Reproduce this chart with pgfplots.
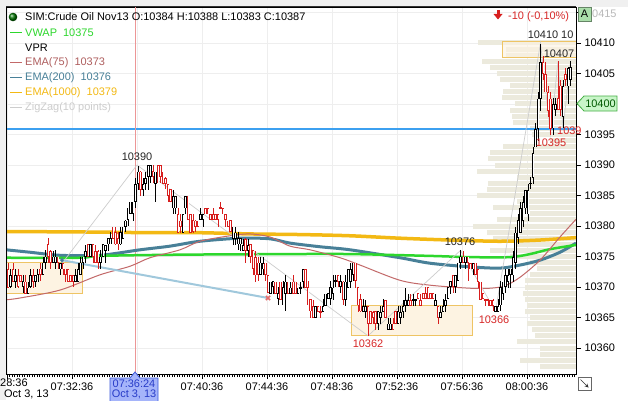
\documentclass[border=0pt]{standalone}
\usepackage{pgfplots}
\pgfplotsset{compat=1.18}
\usepackage{pgfplotstable}
\usepackage{fontspec}
\setmainfont{Liberation Sans}

\definecolor{bggray}{RGB}{240,240,240}
\definecolor{gridc}{RGB}{238,238,238}
\definecolor{vprc}{RGB}{236,234,221}
\definecolor{boxfill}{RGB}{253,243,226}
\definecolor{boxedge}{RGB}{238,196,100}
\definecolor{hblue}{RGB}{60,160,240}
\definecolor{crossred}{RGB}{236,150,150}
\definecolor{vwapc}{RGB}{45,215,45}
\definecolor{ema75}{RGB}{195,105,105}
\definecolor{ema200}{RGB}{72,128,152}
\definecolor{ema1000}{RGB}{243,185,20}
\definecolor{zigc}{RGB}{205,205,205}
\definecolor{lblue}{RGB}{160,200,220}
\definecolor{xred}{RGB}{230,110,110}
\definecolor{candred}{RGB}{215,30,30}
\definecolor{txtred}{RGB}{215,40,40}
\definecolor{agreen}{RGB}{170,222,170}
\definecolor{tagfill}{RGB}{200,245,200}
\definecolor{tagedge}{RGB}{70,175,70}
\definecolor{xlab}{RGB}{165,180,250}
\definecolor{xlabedge}{RGB}{60,90,220}
\definecolor{xlabtxt}{RGB}{40,60,200}

\newcommand{\lbl}{\fontsize{11}{13}\selectfont}

% bar i o h l c s   (s = 1 up/black, -1 down/red)
\pgfplotstableread{
i o h l c s
0 10373 10374 10370 10370 -1
1 10370 10373 10370 10372 1
2 10373 10374 10371 10371 -1
3 10371 10373 10370 10372 1
4 10372 10373 10370 10370 -1
5 10372 10372 10371 10371 -1
6 10370 10372 10369 10371 1
7 10371 10372 10369 10369 -1
8 10369 10371 10369 10370 1
9 10370 10373 10370 10372 1
10 10372 10373 10370 10371 -1
11 10371 10372 10370 10372 1
12 10372 10373 10371 10373 1
13 10373 10374 10371 10372 -1
14 10372 10375 10372 10374 1
15 10374 10376 10373 10375 1
16 10377 10378 10374 10375 -1
17 10376 10376 10373 10374 -1
18 10374 10376 10374 10375 1
19 10374 10376 10373 10375 1
20 10375 10375 10373 10374 -1
21 10373 10374 10372 10374 1
22 10374 10374 10372 10373 -1
23 10373 10373 10371 10372 -1
24 10373 10373 10371 10371 -1
25 10372 10372 10371 10371 -1
26 10372 10372 10370 10371 -1
27 10371 10373 10371 10372 1
28 10371 10374 10371 10373 1
29 10372 10375 10372 10374 1
30 10374 10375 10373 10375 1
31 10375 10377 10374 10376 1
32 10377 10377 10375 10375 -1
33 10375 10377 10375 10377 1
34 10377 10377 10374 10375 -1
35 10376 10377 10374 10374 -1
36 10376 10376 10373 10374 -1
37 10374 10376 10373 10375 1
38 10375 10377 10375 10377 1
39 10376 10377 10374 10377 1
40 10377 10378 10376 10378 1
41 10377 10379 10377 10378 1
42 10380 10380 10378 10378 -1
43 10379 10380 10377 10377 -1
44 10378 10379 10376 10377 -1
45 10377 10380 10377 10379 1
46 10378 10380 10378 10380 1
47 10380 10381 10379 10381 1
48 10381 10383 10380 10383 1
49 10382 10384 10382 10384 1
50 10382 10384 10381 10384 1
51 10384 10388 10383 10387 1
52 10387 10390 10386 10389 1
53 10389 10389 10385 10386 -1
54 10386 10388 10385 10387 1
55 10387 10389 10386 10388 1
56 10388 10390 10386 10390 1
57 10388 10390 10387 10390 1
58 10389 10390 10387 10388 -1
59 10387 10389 10384 10389 1
60 10390 10390 10387 10387 -1
61 10390 10390 10387 10388 -1
62 10389 10389 10387 10387 -1
63 10388 10388 10386 10387 -1
64 10387 10387 10384 10385 -1
65 10386 10386 10384 10384 -1
66 10383 10386 10382 10385 1
67 10383 10385 10382 10385 1
68 10382 10383 10379 10379 -1
69 10381 10382 10379 10380 -1
70 10379 10382 10379 10382 1
71 10383 10385 10382 10385 1
72 10385 10385 10381 10381 -1
73 10382 10382 10379 10379 -1
74 10381 10382 10379 10379 -1
75 10381 10381 10379 10380 -1
76 10381 10381 10380 10380 -1
77 10381 10383 10381 10382 1
78 10381 10382 10380 10382 1
79 10383 10383 10382 10382 -1
80 10383 10383 10382 10382 -1
81 10382 10382 10381 10381 -1
82 10382 10383 10381 10381 -1
83 10382 10382 10381 10381 -1
84 10382 10382 10380 10381 -1
85 10383 10384 10383 10383 -1
86 10383 10383 10382 10382 -1
87 10382 10382 10380 10381 -1
88 10381 10381 10380 10380 -1
89 10381 10381 10379 10379 -1
90 10378 10380 10377 10380 1
91 10378 10380 10377 10379 1
92 10377 10379 10376 10378 1
93 10377 10378 10376 10378 1
94 10376 10378 10376 10377 1
95 10378 10378 10374 10376 -1
96 10376 10378 10375 10377 1
97 10377 10377 10374 10375 -1
98 10376 10376 10372 10373 -1
99 10375 10376 10371 10372 -1
100 10374 10375 10371 10372 -1
101 10372 10375 10372 10374 1
102 10373 10375 10372 10374 1
103 10374 10374 10371 10372 -1
104 10372 10372 10369 10369 -1
105 10369 10371 10369 10371 1
106 10370 10371 10369 10371 1
107 10371 10371 10369 10369 -1
108 10368 10370 10367 10369 1
109 10371 10371 10368 10368 -1
110 10367 10371 10367 10370 1
111 10369 10372 10366 10371 1
112 10371 10371 10369 10369 -1
113 10369 10371 10369 10370 1
114 10371 10372 10369 10369 -1
115 10371 10371 10369 10369 -1
116 10369 10370 10369 10370 1
117 10370 10371 10369 10370 1
118 10371 10373 10370 10373 1
119 10373 10373 10370 10370 -1
120 10370 10371 10367 10367 -1
121 10368 10368 10365 10366 -1
122 10367 10368 10365 10365 -1
123 10365 10367 10365 10367 1
124 10367 10367 10366 10366 -1
125 10366 10367 10365 10366 -1
126 10366 10368 10366 10367 1
127 10367 10369 10367 10369 1
128 10368 10369 10368 10369 1
129 10368 10371 10367 10370 1
130 10369 10372 10368 10370 1
131 10371 10372 10370 10371 1
132 10372 10372 10370 10371 -1
133 10370 10372 10369 10371 1
134 10371 10371 10367 10368 -1
135 10368 10372 10367 10371 1
136 10370 10373 10370 10373 1
137 10371 10374 10370 10373 1
138 10372 10374 10371 10374 1
139 10374 10374 10370 10371 -1
140 10370 10370 10366 10367 -1
141 10368 10369 10366 10366 -1
142 10366 10368 10366 10367 1
143 10366 10368 10365 10367 1
144 10367 10367 10362 10364 -1
145 10366 10366 10364 10364 -1
146 10366 10366 10364 10365 -1
147 10366 10366 10363 10364 -1
148 10364 10366 10363 10366 1
149 10365 10367 10364 10366 1
150 10366 10368 10366 10367 1
151 10368 10368 10365 10365 -1
152 10363 10365 10363 10364 1
153 10363 10365 10363 10364 1
154 10364 10365 10363 10363 -1
155 10366 10366 10364 10364 -1
156 10364 10367 10364 10366 1
157 10365 10367 10364 10366 1
158 10366 10368 10365 10367 1
159 10367 10370 10366 10368 1
160 10367 10369 10367 10368 1
161 10368 10369 10367 10367 -1
162 10368 10369 10367 10368 1
163 10368 10368 10367 10368 1
164 10369 10369 10368 10368 -1
165 10368 10369 10367 10367 -1
166 10369 10369 10368 10368 -1
167 10369 10370 10368 10368 -1
168 10370 10370 10368 10368 -1
169 10369 10369 10368 10368 -1
170 10369 10369 10368 10368 -1
171 10367 10369 10367 10368 1
172 10367 10367 10364 10365 -1
173 10365 10367 10365 10366 1
174 10366 10368 10366 10367 1
175 10367 10369 10366 10368 1
176 10368 10370 10368 10370 1
177 10370 10371 10369 10371 1
178 10372 10372 10369 10370 -1
179 10370 10372 10369 10372 1
180 10371 10374 10371 10374 1
181 10374 10376 10373 10375 1
182 10375 10376 10374 10374 -1
183 10374 10375 10373 10375 1
184 10375 10375 10371 10374 -1
185 10374 10374 10373 10373 -1
186 10373 10374 10372 10374 1
187 10374 10374 10372 10372 -1
188 10373 10373 10370 10371 -1
189 10371 10371 10368 10368 -1
190 10369 10369 10368 10368 -1
191 10368 10368 10367 10368 -1
192 10368 10368 10367 10368 -1
193 10368 10368 10367 10367 -1
194 10368 10368 10366 10367 -1
195 10366 10367 10366 10367 1
196 10366 10368 10366 10367 1
197 10367 10371 10366 10370 1
198 10369 10371 10368 10371 1
199 10370 10373 10369 10372 1
200 10371 10373 10370 10372 1
201 10372 10373 10370 10373 1
202 10372 10376 10371 10375 1
203 10374 10380 10373 10379 1
204 10378 10382 10377 10381 1
205 10379 10384 10379 10383 1
206 10381 10385 10380 10384 1
207 10383 10386 10382 10386 1
208 10382 10387 10381 10386 1
209 10387 10388 10386 10387 1
210 10388 10393 10387 10392 1
211 10393 10397 10393 10396 1
212 10396 10402 10394 10401 1
213 10401 10410 10399 10407 1
214 10407 10408 10404 10405 -1
215 10405 10407 10402 10402 -1
216 10402 10403 10398 10399 -1
217 10401 10402 10395 10396 -1
218 10396 10401 10395 10400 1
219 10399 10401 10398 10400 1
220 10401 10407 10399 10399 -1
221 10403 10404 10398 10399 -1
222 10398 10404 10396 10403 1
223 10405 10406 10403 10404 -1
224 10403 10406 10400 10406 1
225 10404 10407 10403 10406 1
}\candles

% volume profile: price, bar length in pixels
\pgfplotstableread{
p w
10410 98
10409 70
10408 70
10407 94
10406 86
10405 79
10404 76
10403 66
10402 73
10401 74
10400 61
10399 66
10398 64
10397 63
10396 46
10395 44
10394 26
10393 73
10392 86
10391 88
10390 81
10389 99
10388 59
10387 88
10386 89
10385 99
10384 59
10383 83
10382 46
10381 79
10380 103
10379 89
10378 83
10377 59
10376 86
10375 66
10374 46
10373 39
10372 46
10371 51
10370 51
10369 53
10368 51
10367 49
10366 51
10365 46
10364 49
10363 44
10362 41
10361 59
10360 36
10359 36
10358 56
10357 36
}\vpr

\pgfplotsset{
  wick/.style={draw=none, mark=none, error bars/.cd, y dir=both, y explicit,
    error mark=none, error bar style={draw=#1, line width=0.7bp}},
  body/.style={draw=none, mark=none, error bars/.cd, y dir=both, y explicit,
    error mark=none, error bar style={draw=#1, line width=2.3bp}},
  hollow/.style={draw=none, mark=none, error bars/.cd, y dir=both, y explicit,
    error mark=none, error bar style={draw=white, line width=0.9bp}},
}

\begin{document}
\begin{tikzpicture}[x=1bp,y=1bp]
\fill[bggray] (0,0) rectangle (628,400);
\fill[white] (6,0) rectangle (628,393);
\useasboundingbox (0,0) rectangle (628,400);

\begin{axis}[
  at={(6bp,26bp)}, anchor=south west,
  width=570bp, height=367bp, scale only axis,
  xmin=-0.8, xmax=227.2, ymin=10355.74, ymax=10415.9,
  axis line style={black, line width=0.8bp},
  xtick={-0.4,25.6,51.6,77.6,103.6,129.6,155.6,181.6,207.6},
  xticklabels={,07:32:36,,07:40:36,07:44:36,07:48:36,07:52:36,07:56:36,08:00:36},
  minor xtick={-0.4,0.6,...,226.6},
  ytick={10360,10365,...,10415},
  yticklabels={10360,10365,10370,10375,10380,10385,10390,10395,,10405,10410,},
  xtick pos=left, ytick pos=right, yticklabel pos=right,
  tick align=outside,
  major tick length=5bp, minor tick length=3bp,
  tick style={black, line width=0.6bp},
  minor tick style={black, line width=0.5bp},
  ticklabel style={font=\lbl, text=black},
  grid=major, major grid style={draw=gridc, line width=0.6bp},
  unbounded coords=discard,
]
% volume profile
\addplot[draw=none, mark=none, error bars/.cd, x dir=both, x explicit,
  error mark=none, error bar style={draw=vprc, line width=5bp}]
  table[x expr={227.2-\thisrow{w}/5}, y=p, x error expr={\thisrow{w}/5}] \vpr;

% boxes
\addplot[draw=boxedge, fill=boxfill, line width=0.8bp]
  coordinates {(-0.8,10374.1) (29.6,10374.1) (29.6,10369) (-0.8,10369) (-0.8,10374.1)};
\addplot[draw=boxedge, fill=boxfill, line width=0.8bp]
  coordinates {(137.2,10367.0) (185.6,10367.0) (185.6,10362.1) (137.2,10362.1) (137.2,10367.0)};
\addplot[draw=boxedge, fill=boxfill, fill opacity=0.6, line width=0.8bp]
  coordinates {(197.6,10410.2) (227.2,10410.2) (227.2,10407.7) (197.6,10407.7) (197.6,10410.2)};

% level line and crosshair
\addplot[hblue, line width=2bp] coordinates {(-0.8,10395.9) (227.2,10395.9)};
\addplot[crossred, line width=0.7bp] coordinates {(50.8,10355.74) (50.8,10415.9)};

% indicators
\addplot[ema1000, line width=3.5bp, smooth] coordinates {
(-0.8,10379.1) (36.8,10379.0) (56.8,10378.9) (76.8,10378.9) (96.8,10378.7)
(116.8,10378.6) (136.8,10378.4) (156.8,10378.0) (176.8,10377.7) (196.8,10377.5)
(212.8,10377.7) (227.2,10378.1)};
\addplot[ema200, line width=3bp, smooth] coordinates {
(-0.8,10376.1) (8.8,10375.7) (20.8,10375.2) (36.8,10375.2) (52.8,10376.1)
(64.8,10376.7) (76.8,10377.5) (92.8,10378.0) (104.8,10377.9) (112.8,10377.2)
(124.8,10376.6) (136.8,10376.1) (156.8,10374.8) (168.8,10373.9) (184.8,10373.3)
(196.8,10373.1) (204.8,10373.6) (212.8,10374.4) (220.8,10375.7) (227.2,10377.2)};
\addplot[vwapc, line width=2.5bp, smooth] coordinates {
(-0.8,10374.8) (28.8,10374.8) (36.8,10375.1) (68.8,10375.3) (112.8,10375.4)
(136.8,10375.4) (168.8,10375.1) (184.8,10374.9) (200.8,10374.9) (208.8,10375.4)
(216.8,10376.2) (227.2,10376.9)};
\addplot[ema75, line width=1bp, smooth] coordinates {
(-0.8,10367.9) (4.8,10368.2) (20.8,10369.5) (36.8,10372.0) (48.8,10373.4)
(56.8,10374.8) (68.8,10376.1) (76.8,10377.5) (88.8,10378.4) (96.8,10378.7)
(104.8,10378.2) (112.8,10376.7) (120.8,10376.1) (132.8,10374.8) (140.8,10373.6)
(156.8,10371.1) (168.8,10370.3) (184.8,10369.8) (192.8,10369.8) (198.8,10370.2)
(204.8,10371.6) (212.8,10374.4) (220.8,10378.2) (227.2,10381.1)};

% zigzag and drawn trend line
\addplot[zigc, line width=0.7bp] coordinates {
(20,10373) (51.6,10390) (144,10362) (181,10376) (195,10366) (213,10410)
(217,10395) (220,10407) (222,10396) (225,10407)};
\addplot[lblue, line width=2bp] coordinates {(21.6,10374.4) (104,10368.2)};
\addplot[only marks, mark=x, mark size=3bp, mark options={xred, line width=1.6bp}]
  coordinates {(104,10368.2)};
\addplot[only marks, mark=diamond*, mark size=2.2bp, mark options={ema200}]
  coordinates {(21.6,10374.4)};

% candles
\addplot[restrict expr to domain={\thisrow{s}}{0:2}, wick=black]
  table[x=i, y expr={(\thisrow{h}+\thisrow{l})/2}, y error expr={(\thisrow{h}-\thisrow{l})/2}] \candles;
\addplot[restrict expr to domain={\thisrow{s}}{-2:0}, wick=candred]
  table[x=i, y expr={(\thisrow{h}+\thisrow{l})/2}, y error expr={(\thisrow{h}-\thisrow{l})/2}] \candles;
\addplot[restrict expr to domain={\thisrow{s}}{0:2}, body=black]
  table[x=i, y expr={(\thisrow{o}+\thisrow{c})/2}, y error expr={max(abs(\thisrow{c}-\thisrow{o})/2,0.12)}] \candles;
\addplot[restrict expr to domain={\thisrow{s}}{-2:0}, body=candred]
  table[x=i, y expr={(\thisrow{o}+\thisrow{c})/2}, y error expr={max(abs(\thisrow{c}-\thisrow{o})/2,0.12)}] \candles;
\addplot[hollow]
  table[x=i, y expr={(\thisrow{o}+\thisrow{c})/2}, y error expr={max(abs(\thisrow{c}-\thisrow{o})/2-0.12,0)}] \candles;
\end{axis}

% frame
\draw[black!80, line width=1bp] (6,393) -- (576,393);
\draw[black, line width=1bp] (6.5,26) -- (6.5,393);
\draw[black, line width=0.8bp] (576,26) -- (576,393);

% header and legend
\shade[ball color=green!45!black] (13,383) circle (4.3);
\node[anchor=west, inner sep=0, font=\lbl] at (25,383) {SIM:Crude Oil Nov13 O:10384 H:10388 L:10383 C:10387};
\draw[vwapc, line width=0.8bp] (10,367.5) -- (22,367.5);
\node[anchor=west, inner sep=0, font=\lbl, text=vwapc] at (25,367.5) {VWAP\ \ 10375};
\node[anchor=west, inner sep=0, font=\lbl] at (25,352.5) {VPR};
\draw[ema75, line width=0.8bp] (10,337.5) -- (22,337.5);
\node[anchor=west, inner sep=0, font=\lbl, text=ema75!90!black] at (25,337.5) {EMA(75)\ \ 10373};
\draw[ema200, line width=0.8bp] (10,322.5) -- (22,322.5);
\node[anchor=west, inner sep=0, font=\lbl, text=ema200] at (25,322.5) {EMA(200)\ \ 10376};
\draw[ema1000, line width=0.8bp] (10,307.5) -- (22,307.5);
\node[anchor=west, inner sep=0, font=\lbl, text=ema1000] at (25,307.5) {EMA(1000)\ \ 10379};
\draw[zigc, line width=0.8bp] (10,292.5) -- (22,292.5);
\node[anchor=west, inner sep=0, font=\lbl, text=zigc] at (25,292.5) {ZigZag(10 points)};

% change indicator
\fill[candred] (496.5,390) rectangle (499.5,385);
\fill[candred] (493.5,386) -- (502.5,386) -- (498,380.5) -- cycle;
\node[anchor=west, inner sep=0, font=\lbl, text=txtred] at (508,383) {-10 (-0,10\%)};

% pivot labels
\node[font=\lbl, text=black!85] at (137,243) {10390};
\node[font=\lbl, text=black!85] at (460,158) {10376};
\node[font=\lbl, text=txtred] at (368,56) {10362};
\node[font=\lbl, text=txtred] at (494,80) {10366};
\node[font=\lbl, text=txtred] at (551,257) {10395};
\node[font=\lbl, text=txtred, anchor=west, inner sep=0] at (557,269) {1039};
\node[font=\lbl, text=black!85] at (543,365) {10410};
\node[font=\lbl, text=black!85, anchor=west, inner sep=0] at (561,365) {10};
\node[font=\lbl, text=black!85] at (559,346) {10407};

% right axis tags
\draw[fill=agreen, draw=agreen!60!black, line width=0.6bp] (578,379) rectangle (591,393);
\node[font=\lbl, inner sep=0] at (584.5,386) {A};
\node[font=\lbl, inner sep=0, anchor=west, text=gray!55] at (592,386) {0415};
\draw[fill=tagfill, draw=tagedge, line width=0.8bp]
  (577,296.5) -- (584,304) -- (617,304) -- (617,289) -- (584,289) -- cycle;
\node[font=\lbl, inner sep=0, text=green!35!black] at (600.5,296.5) {10400};

% time axis extras
\node[anchor=west, inner sep=0, font=\lbl] at (0,17) {28:36};
\node[anchor=west, inner sep=0, font=\lbl] at (4,5.5) {Oct 3, 13};
\draw[fill=xlab, draw=xlabedge, line width=0.8bp]
  (110,22) -- (130,22) -- (135,28) -- (140,22) -- (158,22) -- (158,-2) -- (110,-2) -- cycle;
\node[font=\lbl, inner sep=0, text=xlabtxt] at (134,16.5) {07:36:24};
\node[font=\lbl, inner sep=0, text=xlabtxt] at (134,5.5) {Oct 3, 13};
\draw[fill=white, draw=black!60, line width=0.6bp] (578,10) rectangle (591,23);
\draw[black!80, line width=0.7bp, -stealth] (580.5,20.5) -- (588.5,12.5);
\end{tikzpicture}
\end{document}
